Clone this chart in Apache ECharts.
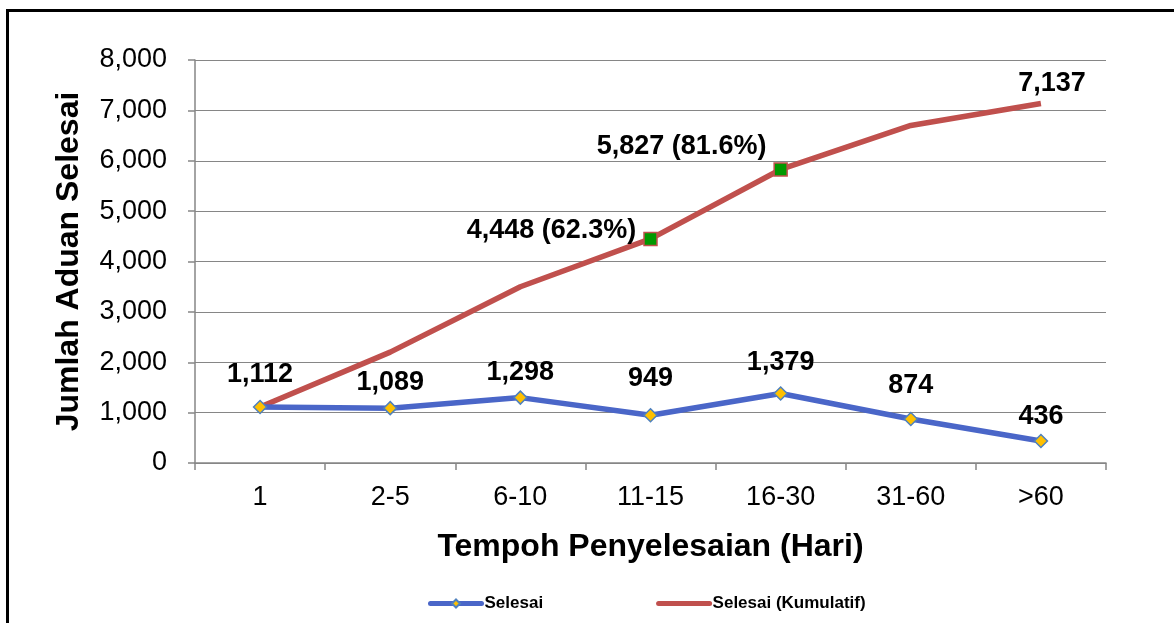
<!DOCTYPE html>
<html><head><meta charset="utf-8">
<script src="https://cdn.jsdelivr.net/npm/echarts@6/dist/echarts.min.js"></script>
<style>html,body{margin:0;padding:0;background:#fff}#c{width:1174px;height:623px}</style>
</head><body><div id="c"></div>
<script>
const categories = ['1','2-5','6-10','11-15','16-30','31-60','>60'];
const selesai = [1112, 1089, 1298, 949, 1379, 874, 436];
const kumulatif = [1112, 2201, 3499, 4448, 5827, 6701, 7137];
const yTicks = [0,1000,2000,3000,4000,5000,6000,7000,8000];
const highlightIdx = [3, 4];
const FONT = 'Liberation Sans, Arial, sans-serif';
const fmt = v => v.toLocaleString('en-US');
const total = kumulatif[kumulatif.length - 1];

// label placement tweaks (style only)
const selLabelDist = [12, 5, 4, 16, 10, 13, 4];
const kumLabelOffset = {3: [0, -8], 4: [3, -23]};

const selData = selesai.map((v, i) => ({value: v, label: {distance: selLabelDist[i]}}));
const kumData = kumulatif.map((v, i) => {
  const d = {value: v};
  if (highlightIdx.includes(i)) {
    d.symbol = 'rect'; d.symbolSize = 13;
    d.itemStyle = {color: '#009900', borderColor: '#C0504D', borderWidth: 1.5};
    d.label = {show: true, formatter: fmt(v) + ' (' + (v / total * 100).toFixed(1) + '%)',
      position: 'left', distance: i === 3 ? 7 : 10, offset: kumLabelOffset[i]};
  }
  if (i === kumulatif.length - 1) {
    d.label = {show: true, formatter: fmt(v), position: 'top', distance: 6, offset: [11, 0]};
  }
  return d;
});

const chart = echarts.init(document.getElementById('c'));
chart.setOption({
  animation: false,
  textStyle: {fontFamily: FONT},
  graphic: [{type: 'rect', shape: {x: 7.5, y: 10.5, width: 1300, height: 800},
    style: {fill: 'none', stroke: '#000', lineWidth: 3}, silent: true}],
  grid: {left: 195, right: 68, top: 60, bottom: 160},
  legend: {
    data: ['Selesai', 'Selesai (Kumulatif)'], top: 590, left: 423,
    itemGap: 113, itemWidth: 51, itemHeight: 10,
    lineStyle: {width: 5, cap: 'round'},
    textStyle: {fontFamily: FONT, fontWeight: 'bold', fontSize: 17, color: '#000', padding: [0,0,0,-2]}
  },
  xAxis: {
    type: 'category', data: categories, boundaryGap: true,
    name: 'Tempoh Penyelesaian (Hari)', nameLocation: 'middle', nameGap: 68,
    nameTextStyle: {fontFamily: FONT, fontWeight: 'bold', fontSize: 32, color: '#000'},
    axisLine: {lineStyle: {color: '#868686', width: 1.5}},
    axisTick: {show: true, length: 7, lineStyle: {color: '#868686', width: 1.5}},
    axisLabel: {fontFamily: FONT, fontSize: 27, color: '#000', margin: 21}
  },
  yAxis: {
    type: 'value', min: 0, max: 8000, interval: 1000,
    name: 'Jumlah Aduan Selesai', nameLocation: 'middle', nameGap: 110, nameRotate: 90,
    nameTextStyle: {fontFamily: FONT, fontWeight: 'bold', fontSize: 32, color: '#000'},
    axisLine: {show: true, lineStyle: {color: '#868686', width: 1.5}},
    axisTick: {show: true, length: 7, lineStyle: {color: '#868686', width: 1.5}},
    splitLine: {lineStyle: {color: '#868686', width: 1.2}},
    axisLabel: {fontFamily: FONT, fontSize: 27, color: '#000', margin: 28,
      formatter: v => yTicks.includes(v) ? fmt(v) : ''}
  },
  series: [
    {
      name: 'Selesai (Kumulatif)', type: 'line', data: kumData, z: 2,
      symbol: 'circle', symbolSize: 1, showSymbol: true,
      lineStyle: {color: '#C0504D', width: 5.5},
      itemStyle: {color: 'transparent', borderWidth: 0},
      label: {show: false, fontFamily: FONT, fontWeight: 'bold', fontSize: 27, color: '#000'}
    },
    {
      name: 'Selesai', type: 'line', data: selData, z: 3,
      symbol: 'diamond', symbolSize: 13,
      lineStyle: {color: '#4A66C8', width: 5.5},
      itemStyle: {color: '#FFC000', borderColor: '#4F81BD', borderWidth: 1.5},
      label: {show: true, position: 'top', formatter: p => fmt(p.value),
        fontFamily: FONT, fontWeight: 'bold', fontSize: 27, color: '#000'}
    }
  ]
});
</script></body></html>
